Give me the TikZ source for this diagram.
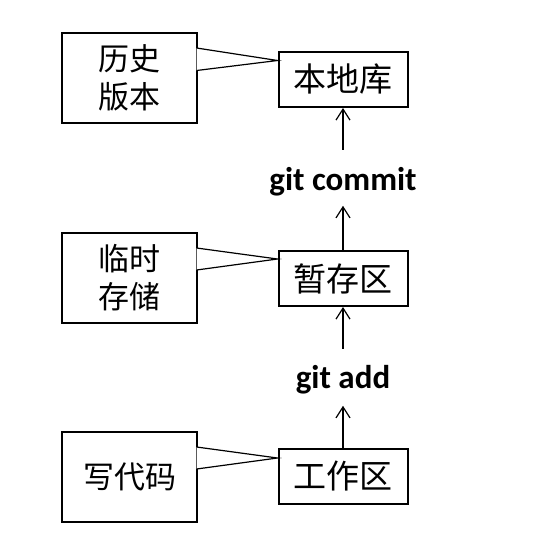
\documentclass[tikz,border=0pt]{standalone}
\usepackage{fontspec}
\newfontfamily\cjk{Noto Sans CJK SC}
\newfontfamily\calibri{Carlito}
\usepackage{tikz}
\usetikzlibrary{arrows.meta,positioning}
\tikzset{
  area/.style={draw,line width=2pt,minimum width=129pt,minimum height=55pt,inner sep=0pt,font=\cjk\fontsize{33}{33}\selectfont},
  note/.style={draw,line width=1.2pt,minimum width=135pt,minimum height=90pt,inner sep=0pt,align=center,font=\cjk\fontsize{31}{38}\selectfont},
  cmd/.style={inner sep=0pt,font=\calibri\bfseries\fontsize{33}{33}\selectfont},
  up/.style={-{Straight Barb[length=11pt,width=14pt]},line width=1.2pt},
  tail/.style={fill=white,line width=1.2pt}
}

\begin{document}
\begin{tikzpicture}[x=1pt,y=-1pt]
\fill[white] (0,0) rectangle (537,552);
\useasboundingbox (0,0) rectangle (537,552);
% storage areas
\node[area] (repo) at (343,79.5) {本地库};
\node[area] (stage) at (343,278.5) {暂存区};
\node[area] (work) at (343,476.5) {工作区};
% git commands
\node[cmd,anchor=base] (commit) at (343,190) {git commit};
\node[cmd,anchor=base] (add) at (343,388) {git add};
\draw[up,shorten <=17pt] (commit.north) -- (repo.south);
\draw[up,shorten >=10pt] (stage.north) -- (commit.south);
\draw[up,shorten <=16pt] (add.north) -- (stage.south);
\draw[up,shorten >=12pt] (work.north) -- (add.south);
% notes
\node[note] (history) at (129.5,78) {历史\\版本};
\node[note] (temp) at (129.5,278) {临时\\存储};
\node[note] (code) at (129.5,477) {写代码};
\draw[tail] ([xshift=-1pt,yshift=30pt]history.east) -- ([yshift=19pt]repo.west) -- ([xshift=-1pt,yshift=7.5pt]history.east);
\draw[tail] ([xshift=-1pt,yshift=30pt]temp.east) -- ([yshift=19.5pt]stage.west) -- ([xshift=-1pt,yshift=8pt]temp.east);
\draw[tail] ([xshift=-1pt,yshift=30pt]code.east) -- ([yshift=18.5pt]work.west) -- ([xshift=-1pt,yshift=8pt]code.east);
\end{tikzpicture}
\end{document}
